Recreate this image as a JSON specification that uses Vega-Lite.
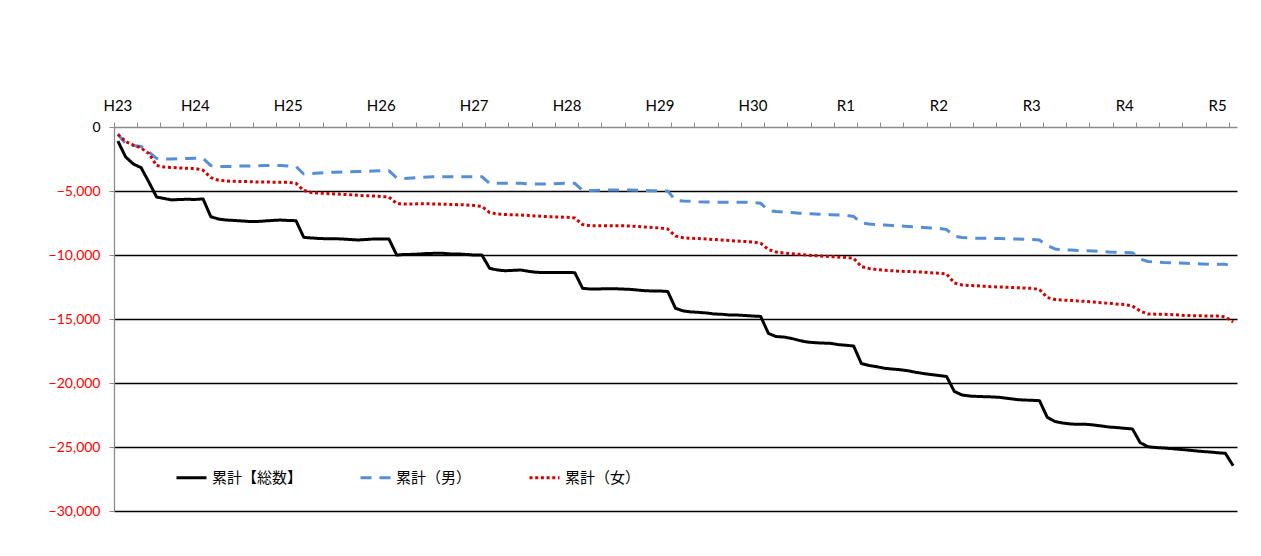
{
  "$schema": "https://vega.github.io/schema/vega-lite/v6.json",
  "width": 1123,
  "height": 384,
  "autosize": "none",
  "padding": {"left": 114, "top": 127, "right": 24, "bottom": 45},
  "background": "#ffffff",
  "config": {"view": {"stroke": null}},
  "data": {
    "values": [
      {"m": "2011-03", "total": -1100, "male": -570, "female": -570},
      {"m": "2011-04", "total": -2340, "male": -1290, "female": -1130},
      {"m": "2011-05", "total": -2890, "male": -1450, "female": -1410},
      {"m": "2011-06", "total": -3180, "male": -1520, "female": -1640},
      {"m": "2011-07", "total": -4300, "male": -1950, "female": -2070},
      {"m": "2011-08", "total": -5470, "male": -2450, "female": -3010},
      {"m": "2011-09", "total": -5590, "male": -2500, "female": -3130},
      {"m": "2011-10", "total": -5700, "male": -2500, "female": -3160},
      {"m": "2011-11", "total": -5660, "male": -2480, "female": -3200},
      {"m": "2011-12", "total": -5650, "male": -2460, "female": -3230},
      {"m": "2012-01", "total": -5660, "male": -2450, "female": -3240},
      {"m": "2012-02", "total": -5620, "male": -2460, "female": -3380},
      {"m": "2012-03", "total": -7010, "male": -3010, "female": -3950},
      {"m": "2012-04", "total": -7190, "male": -3090, "female": -4160},
      {"m": "2012-05", "total": -7270, "male": -3090, "female": -4220},
      {"m": "2012-06", "total": -7300, "male": -3070, "female": -4240},
      {"m": "2012-07", "total": -7340, "male": -3050, "female": -4260},
      {"m": "2012-08", "total": -7380, "male": -3050, "female": -4270},
      {"m": "2012-09", "total": -7380, "male": -3030, "female": -4300},
      {"m": "2012-10", "total": -7340, "male": -3010, "female": -4300},
      {"m": "2012-11", "total": -7300, "male": -2990, "female": -4310},
      {"m": "2012-12", "total": -7270, "male": -3010, "female": -4320},
      {"m": "2013-01", "total": -7300, "male": -3050, "female": -4320},
      {"m": "2013-02", "total": -7320, "male": -3090, "female": -4400},
      {"m": "2013-03", "total": -8620, "male": -3670, "female": -4960},
      {"m": "2013-04", "total": -8670, "male": -3630, "female": -5120},
      {"m": "2013-05", "total": -8710, "male": -3590, "female": -5160},
      {"m": "2013-06", "total": -8730, "male": -3550, "female": -5200},
      {"m": "2013-07", "total": -8730, "male": -3540, "female": -5230},
      {"m": "2013-08", "total": -8750, "male": -3520, "female": -5260},
      {"m": "2013-09", "total": -8790, "male": -3490, "female": -5290},
      {"m": "2013-10", "total": -8830, "male": -3480, "female": -5340},
      {"m": "2013-11", "total": -8790, "male": -3460, "female": -5370},
      {"m": "2013-12", "total": -8750, "male": -3440, "female": -5390},
      {"m": "2014-01", "total": -8750, "male": -3420, "female": -5430},
      {"m": "2014-02", "total": -8750, "male": -3410, "female": -5470},
      {"m": "2014-03", "total": -10000, "male": -3980, "female": -5980},
      {"m": "2014-04", "total": -9960, "male": -4020, "female": -6020},
      {"m": "2014-05", "total": -9950, "male": -3980, "female": -6020},
      {"m": "2014-06", "total": -9920, "male": -3930, "female": -5990},
      {"m": "2014-07", "total": -9880, "male": -3910, "female": -6000},
      {"m": "2014-08", "total": -9870, "male": -3890, "female": -6020},
      {"m": "2014-09", "total": -9870, "male": -3880, "female": -6030},
      {"m": "2014-10", "total": -9920, "male": -3880, "female": -6050},
      {"m": "2014-11", "total": -9920, "male": -3880, "female": -6070},
      {"m": "2014-12", "total": -9960, "male": -3880, "female": -6090},
      {"m": "2015-01", "total": -10000, "male": -3880, "female": -6130},
      {"m": "2015-02", "total": -10000, "male": -3880, "female": -6210},
      {"m": "2015-03", "total": -11040, "male": -4400, "female": -6680},
      {"m": "2015-04", "total": -11170, "male": -4400, "female": -6800},
      {"m": "2015-05", "total": -11230, "male": -4400, "female": -6840},
      {"m": "2015-06", "total": -11200, "male": -4390, "female": -6850},
      {"m": "2015-07", "total": -11170, "male": -4400, "female": -6880},
      {"m": "2015-08", "total": -11270, "male": -4440, "female": -6910},
      {"m": "2015-09", "total": -11350, "male": -4450, "female": -6950},
      {"m": "2015-10", "total": -11370, "male": -4450, "female": -6990},
      {"m": "2015-11", "total": -11370, "male": -4430, "female": -7020},
      {"m": "2015-12", "total": -11370, "male": -4410, "female": -7030},
      {"m": "2016-01", "total": -11370, "male": -4400, "female": -7050},
      {"m": "2016-02", "total": -11380, "male": -4400, "female": -7110},
      {"m": "2016-03", "total": -12600, "male": -4950, "female": -7620},
      {"m": "2016-04", "total": -12660, "male": -4960, "female": -7710},
      {"m": "2016-05", "total": -12660, "male": -4950, "female": -7710},
      {"m": "2016-06", "total": -12630, "male": -4920, "female": -7710},
      {"m": "2016-07", "total": -12630, "male": -4920, "female": -7710},
      {"m": "2016-08", "total": -12660, "male": -4920, "female": -7720},
      {"m": "2016-09", "total": -12680, "male": -4920, "female": -7730},
      {"m": "2016-10", "total": -12730, "male": -4940, "female": -7770},
      {"m": "2016-11", "total": -12790, "male": -4960, "female": -7810},
      {"m": "2016-12", "total": -12810, "male": -4980, "female": -7850},
      {"m": "2017-01", "total": -12810, "male": -4980, "female": -7890},
      {"m": "2017-02", "total": -12850, "male": -5000, "female": -7970},
      {"m": "2017-03", "total": -14160, "male": -5730, "female": -8520},
      {"m": "2017-04", "total": -14370, "male": -5780, "female": -8650},
      {"m": "2017-05", "total": -14450, "male": -5800, "female": -8690},
      {"m": "2017-06", "total": -14480, "male": -5840, "female": -8720},
      {"m": "2017-07", "total": -14530, "male": -5860, "female": -8750},
      {"m": "2017-08", "total": -14610, "male": -5880, "female": -8790},
      {"m": "2017-09", "total": -14630, "male": -5880, "female": -8830},
      {"m": "2017-10", "total": -14690, "male": -5880, "female": -8870},
      {"m": "2017-11", "total": -14690, "male": -5880, "female": -8910},
      {"m": "2017-12", "total": -14730, "male": -5880, "female": -8950},
      {"m": "2018-01", "total": -14770, "male": -5900, "female": -8980},
      {"m": "2018-02", "total": -14800, "male": -5960, "female": -9080},
      {"m": "2018-03", "total": -16130, "male": -6520, "female": -9570},
      {"m": "2018-04", "total": -16370, "male": -6600, "female": -9770},
      {"m": "2018-05", "total": -16410, "male": -6640, "female": -9840},
      {"m": "2018-06", "total": -16520, "male": -6680, "female": -9900},
      {"m": "2018-07", "total": -16680, "male": -6730, "female": -9950},
      {"m": "2018-08", "total": -16800, "male": -6770, "female": -10000},
      {"m": "2018-09", "total": -16850, "male": -6800, "female": -10050},
      {"m": "2018-10", "total": -16880, "male": -6820, "female": -10090},
      {"m": "2018-11", "total": -16900, "male": -6850, "female": -10130},
      {"m": "2018-12", "total": -17000, "male": -6880, "female": -10160},
      {"m": "2019-01", "total": -17050, "male": -6890, "female": -10200},
      {"m": "2019-02", "total": -17110, "male": -6990, "female": -10260},
      {"m": "2019-03", "total": -18480, "male": -7500, "female": -10900},
      {"m": "2019-04", "total": -18630, "male": -7580, "female": -11050},
      {"m": "2019-05", "total": -18730, "male": -7620, "female": -11130},
      {"m": "2019-06", "total": -18850, "male": -7660, "female": -11200},
      {"m": "2019-07", "total": -18910, "male": -7700, "female": -11230},
      {"m": "2019-08", "total": -18960, "male": -7730, "female": -11270},
      {"m": "2019-09", "total": -19040, "male": -7770, "female": -11290},
      {"m": "2019-10", "total": -19160, "male": -7810, "female": -11310},
      {"m": "2019-11", "total": -19260, "male": -7850, "female": -11340},
      {"m": "2019-12", "total": -19340, "male": -7890, "female": -11390},
      {"m": "2020-01", "total": -19410, "male": -7910, "female": -11430},
      {"m": "2020-02", "total": -19490, "male": -8010, "female": -11480},
      {"m": "2020-03", "total": -20660, "male": -8520, "female": -12190},
      {"m": "2020-04", "total": -20940, "male": -8630, "female": -12340},
      {"m": "2020-05", "total": -21020, "male": -8670, "female": -12380},
      {"m": "2020-06", "total": -21050, "male": -8700, "female": -12410},
      {"m": "2020-07", "total": -21070, "male": -8700, "female": -12450},
      {"m": "2020-08", "total": -21090, "male": -8700, "female": -12480},
      {"m": "2020-09", "total": -21130, "male": -8710, "female": -12500},
      {"m": "2020-10", "total": -21210, "male": -8730, "female": -12520},
      {"m": "2020-11", "total": -21290, "male": -8750, "female": -12550},
      {"m": "2020-12", "total": -21330, "male": -8770, "female": -12580},
      {"m": "2021-01", "total": -21350, "male": -8790, "female": -12600},
      {"m": "2021-02", "total": -21380, "male": -8830, "female": -12700},
      {"m": "2021-03", "total": -22680, "male": -9260, "female": -13320},
      {"m": "2021-04", "total": -23010, "male": -9530, "female": -13480},
      {"m": "2021-05", "total": -23130, "male": -9590, "female": -13520},
      {"m": "2021-06", "total": -23200, "male": -9610, "female": -13550},
      {"m": "2021-07", "total": -23230, "male": -9650, "female": -13590},
      {"m": "2021-08", "total": -23230, "male": -9670, "female": -13630},
      {"m": "2021-09", "total": -23280, "male": -9690, "female": -13670},
      {"m": "2021-10", "total": -23360, "male": -9730, "female": -13730},
      {"m": "2021-11", "total": -23440, "male": -9770, "female": -13770},
      {"m": "2021-12", "total": -23480, "male": -9790, "female": -13830},
      {"m": "2022-01", "total": -23540, "male": -9800, "female": -13870},
      {"m": "2022-02", "total": -23590, "male": -9820, "female": -13980},
      {"m": "2022-03", "total": -24660, "male": -10310, "female": -14380},
      {"m": "2022-04", "total": -24980, "male": -10510, "female": -14610},
      {"m": "2022-05", "total": -25040, "male": -10550, "female": -14620},
      {"m": "2022-06", "total": -25080, "male": -10590, "female": -14630},
      {"m": "2022-07", "total": -25120, "male": -10600, "female": -14650},
      {"m": "2022-08", "total": -25180, "male": -10630, "female": -14690},
      {"m": "2022-09", "total": -25230, "male": -10650, "female": -14730},
      {"m": "2022-10", "total": -25290, "male": -10680, "female": -14740},
      {"m": "2022-11", "total": -25350, "male": -10700, "female": -14750},
      {"m": "2022-12", "total": -25390, "male": -10730, "female": -14770},
      {"m": "2023-01", "total": -25450, "male": -10730, "female": -14770},
      {"m": "2023-02", "total": -25490, "male": -10730, "female": -14840},
      {"m": "2023-03", "total": -26460, "male": -10860, "female": -15230}
    ]
  },
  "transform": [
    {"fold": ["total", "male", "female"], "as": ["series", "value"]}
  ],
  "layer": [
    {
      "mark": {"type": "line", "strokeWidth": 3, "strokeCap": "butt", "strokeJoin": "round"},
      "encoding": {
        "x": {
          "field": "m",
          "type": "ordinal",
          "sort": "ascending",
          "scale": {"type": "band", "paddingInner": 0, "paddingOuter": 0},
          "axis": {
            "orient": "top",
            "title": null,
            "labels": false,
            "bandPosition": 0,
            "values": ["2011-03","2011-06","2011-09","2011-12","2012-03","2012-06","2012-09","2012-12","2013-03","2013-06","2013-09","2013-12","2014-03","2014-06","2014-09","2014-12","2015-03","2015-06","2015-09","2015-12","2016-03","2016-06","2016-09","2016-12","2017-03","2017-06","2017-09","2017-12","2018-03","2018-06","2018-09","2018-12","2019-03","2019-06","2019-09","2019-12","2020-03","2020-06","2020-09","2020-12","2021-03","2021-06","2021-09","2021-12","2022-03","2022-06","2022-09","2022-12","2023-03"],
            "ticks": true,
            "tickSize": 5,
            "tickWidth": 1,
            "tickColor": "#8c8c8c",
            "domain": true,
            "domainColor": "#8c8c8c",
            "domainWidth": 1.3,
            "grid": false
          }
        },
        "y": {
          "field": "value",
          "type": "quantitative",
          "scale": {"domain": [-30000, 0], "nice": false, "zero": false},
          "axis": {
            "title": null,
            "values": [0, -5000, -10000, -15000, -20000, -25000, -30000],
            "format": ",d",
            "labelFont": "Lato",
            "labelFontSize": 14,
            "labelPadding": 9,
            "labelColor": {"condition": {"test": "datum.value < 0", "value": "#ff0000"}, "value": "#000000"},
            "tickSize": 5,
            "tickColor": "#8c8c8c",
            "domainColor": "#8c8c8c",
            "domainWidth": 1.3,
            "grid": true,
            "gridColor": "#000000",
            "gridWidth": 1.3,
            "gridOpacity": {"condition": {"test": "datum.value === 0", "value": 0}, "value": 1}
          }
        },
        "color": {
          "field": "series",
          "type": "nominal",
          "sort": ["total", "male", "female"],
          "scale": {"domain": ["total", "male", "female"], "range": ["#000000", "#558ed5", "#d40000"]},
          "legend": {
            "title": null,
            "orient": "none",
            "direction": "horizontal",
            "legendX": 61,
            "legendY": 334,
            "symbolType": "stroke",
            "symbolSize": 900,
            "symbolStrokeWidth": 3,
            "labelFont": "Noto Sans CJK JP",
            "labelFontSize": 15,
            "labelColor": "#000000",
            "labelOffset": 4,
            "columnPadding": 51,
            "labelExpr": "datum.value == 'total' ? '累計【総数】' : datum.value == 'male' ? '累計（男）' : '累計（女）'"
          }
        },
        "strokeDash": {
          "field": "series",
          "type": "nominal",
          "sort": ["total", "male", "female"],
          "scale": {"domain": ["total", "male", "female"], "range": [[1, 0], [11, 8], [3, 2.7]]},
          "legend": {
            "title": null,
            "orient": "none",
            "direction": "horizontal",
            "legendX": 61,
            "legendY": 334,
            "symbolType": "stroke",
            "symbolSize": 900,
            "symbolStrokeWidth": 3,
            "labelFont": "Noto Sans CJK JP",
            "labelFontSize": 15,
            "labelColor": "#000000",
            "labelOffset": 4,
            "columnPadding": 51,
            "labelExpr": "datum.value == 'total' ? '累計【総数】' : datum.value == 'male' ? '累計（男）' : '累計（女）'"
          }
        }
      }
    },
    {
      "mark": {"type": "point", "opacity": 0},
      "encoding": {
        "x": {
          "field": "m",
          "type": "ordinal",
          "sort": "ascending",
          "scale": {"type": "band", "paddingInner": 0, "paddingOuter": 0},
          "axis": {
            "orient": "top",
            "title": null,
            "values": ["2011-03","2012-01","2013-01","2014-01","2015-01","2016-01","2017-01","2018-01","2019-01","2020-01","2021-01","2022-01","2023-01"],
            "labelExpr": "toNumber(substring(datum.value, 0, 4)) < 2019 ? 'H' + (toNumber(substring(datum.value, 0, 4)) - 1988) : 'R' + (toNumber(substring(datum.value, 0, 4)) - 2018)",
            "labelAngle": 0,
            "labelFont": "Lato",
            "labelFontSize": 15,
            "labelColor": "#000000",
            "labelPadding": 14,
            "ticks": false,
            "domain": false,
            "grid": false
          }
        }
      }
    }
  ],
  "resolve": {"axis": {"x": "independent"}}
}
